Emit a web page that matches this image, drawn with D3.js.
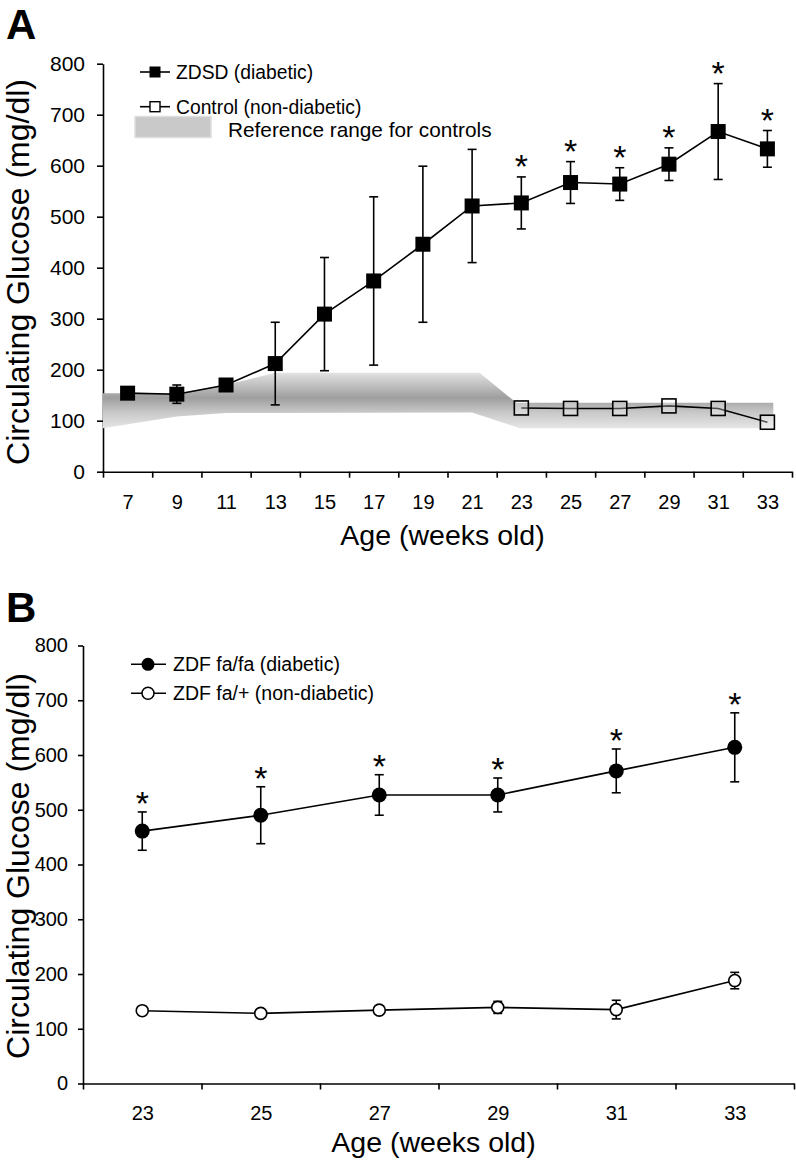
<!DOCTYPE html>
<html lang="en">
<head>
<meta charset="utf-8">
<title>Circulating Glucose</title>
<script src="https://cdn.jsdelivr.net/npm/d3@7"></script>
<style>
  body { margin: 0; background: #fff; }
  svg { font-family: "Liberation Sans", Arial, sans-serif; display: block; }
  .axis path, .axis line { stroke: #000; stroke-width: 1.6px; }
  .axis text { fill: #000; }
</style>
</head>
<body>
<div id="chart"></div>
<script>
// ---- Panel A data (ZDSD rats) ----
var weeksA = [7, 9, 11, 13, 15, 17, 19, 21, 23, 25, 27, 29, 31, 33];
var zdsdMean = [154, 152, 170, 212, 309, 374, 446, 521, 527, 567, 564, 603, 667, 633];
var zdsdErr = [5, 18, 5, 81, 111, 165, 153, 111, 51, 41, 32, 32, 94, 36];
var zdsdStar = [0, 0, 0, 0, 0, 0, 0, 0, 1, 1, 1, 1, 1, 1];
var ctrlWeeks = [23, 25, 27, 29, 31, 33];
var ctrlMean = [125, 124, 124, 129, 124, 97];
// reference range for controls (upper / lower edges, by week)
var bandUpperWeeks = [6, 9, 11, 13, 21.3, 22.8, 33.24];
var bandUpperVals = [154, 154, 170, 194, 194, 135, 135];
var bandLowerWeeks = [6, 9, 11, 21, 22.95, 33.24];
var bandLowerVals = [85, 108, 115, 116, 85, 85];

// ---- Panel B data (ZDF rats) ----
var weeksB = [23, 25, 27, 29, 31, 33];
var zdfMean = [461, 490, 527, 527, 571, 614];
var zdfErr = [35, 52, 37, 31, 40, 63];
var leanMean = [133, 128, 134, 139, 135, 188];
var leanErr = [6, 4, 5, 11, 17, 15];

var yTicks = [0, 100, 200, 300, 400, 500, 600, 700, 800];

var svg = d3.select("#chart").append("svg")
  .attr("width", 796)
  .attr("height", 1160);

// gradient for the reference band
var grad = svg.append("defs").append("linearGradient")
  .attr("id", "bandGrad")
  .attr("x1", 0).attr("y1", 0).attr("x2", 0).attr("y2", 1);
grad.append("stop").attr("offset", "0%").attr("stop-color", "#e2e2e2");
grad.append("stop").attr("offset", "45%").attr("stop-color", "#9e9e9e");
grad.append("stop").attr("offset", "72%").attr("stop-color", "#c9c9c9");
grad.append("stop").attr("offset", "100%").attr("stop-color", "#e6e6e6");

// draws axes + titles for a panel, returns scales
function drawAxes(opt) {
  var x = d3.scaleLinear().domain(opt.xDomain).range(opt.xRange);
  var y = d3.scaleLinear().domain([0, 800]).range(opt.yRange);
  var g = svg.append("g");

  // y axis
  g.append("g")
    .attr("class", "axis")
    .attr("transform", "translate(" + opt.xRange[0] + ",0)")
    .call(d3.axisLeft(y).tickValues(yTicks).tickSize(opt.yTick).tickSizeOuter(0).tickPadding(opt.yPad))
    .selectAll("text").style("font-size", opt.yFont + "px");

  // x axis: ticks at category boundaries
  var bounds = d3.range(opt.xDomain[0], opt.xDomain[1] + 1, 2);
  g.append("g")
    .attr("class", "axis")
    .attr("transform", "translate(0," + opt.yRange[0] + ")")
    .call(d3.axisBottom(x).tickValues(bounds).tickSize(6).tickSizeOuter(0).tickFormat(""));

  // x labels at category centres
  var lab = g.append("g")
    .attr("class", "axis")
    .attr("transform", "translate(0," + opt.yRange[0] + ")")
    .call(d3.axisBottom(x).tickValues(opt.labels).tickSize(0).tickPadding(opt.xPad));
  lab.select(".domain").remove();
  lab.selectAll("text").style("font-size", "20px");

  g.append("text")
    .attr("transform", "translate(29," + opt.yTitle + ") rotate(-90)")
    .attr("text-anchor", "middle")
    .style("font-size", "32px")
    .text("Circulating Glucose (mg/dl)");

  g.append("text")
    .attr("x", (opt.xRange[0] + opt.xRange[1]) / 2 - 5)
    .attr("y", opt.yRange[0] + opt.xTitleGap)
    .attr("text-anchor", "middle")
    .style("font-size", "28.5px")
    .text("Age (weeks old)");

  g.append("text")
    .attr("x", 6)
    .attr("y", opt.panelY)
    .style("font-size", "42px")
    .style("font-weight", "bold")
    .text(opt.panel);

  return { x: x, y: y, g: g };
}

function errorBars(g, x, y, weeks, mean, err) {
  var eb = g.append("g").attr("stroke", "#000").attr("stroke-width", 1.6);
  weeks.forEach(function(w, i) {
    var cx = x(w), top = y(mean[i] + err[i]), bot = y(mean[i] - err[i]);
    eb.append("line").attr("x1", cx).attr("x2", cx).attr("y1", top).attr("y2", bot);
    eb.append("line").attr("x1", cx - 4.5).attr("x2", cx + 4.5).attr("y1", top).attr("y2", top);
    eb.append("line").attr("x1", cx - 4.5).attr("x2", cx + 4.5).attr("y1", bot).attr("y2", bot);
  });
}

function stars(g, x, y, weeks, mean, err, flags, gap) {
  weeks.forEach(function(w, i) {
    if (!flags[i]) return;
    g.append("text")
      .attr("x", x(w))
      .attr("y", y(mean[i] + err[i]) - gap + 19)
      .attr("text-anchor", "middle")
      .style("font-size", "34px")
      .text("*");
  });
}

function seriesLine(g, x, y, weeks, vals) {
  g.append("path")
    .datum(weeks.map(function(w, i) { return [w, vals[i]]; }))
    .attr("fill", "none")
    .attr("stroke", "#000")
    .attr("stroke-width", 1.6)
    .attr("d", d3.line().x(function(d) { return x(d[0]); }).y(function(d) { return y(d[1]); }));
}

// ================= Panel A =================
var A = drawAxes({
  xDomain: [6, 34], xRange: [103, 792], yRange: [471.7, 63.7],
  yTick: 6, yPad: 12, yFont: 21, xPad: 23, labels: weeksA,
  yTitle: 272, xTitleGap: 73, panel: "A", panelY: 39
});

// reference band polygon
var upper = d3.scaleLinear().domain(bandUpperWeeks).range(bandUpperVals);
var lower = d3.scaleLinear().domain(bandLowerWeeks).range(bandLowerVals);
var bandPts = bandUpperWeeks.map(function(w) { return [A.x(w), A.y(upper(w))]; })
  .concat(bandLowerWeeks.slice().reverse().map(function(w) { return [A.x(w), A.y(lower(w))]; }));
A.g.append("path")
  .attr("d", "M" + bandPts.join("L") + "Z")
  .attr("fill", "url(#bandGrad)");

errorBars(A.g, A.x, A.y, weeksA, zdsdMean, zdsdErr);
seriesLine(A.g, A.x, A.y, weeksA, zdsdMean);
seriesLine(A.g, A.x, A.y, ctrlWeeks, ctrlMean);

A.g.selectAll(".zdsd").data(weeksA).enter().append("rect")
  .attr("x", function(d) { return A.x(d) - 7.5; })
  .attr("y", function(d, i) { return A.y(zdsdMean[i]) - 7.5; })
  .attr("width", 15).attr("height", 15)
  .attr("fill", "#000");

A.g.selectAll(".ctrl").data(ctrlWeeks).enter().append("rect")
  .attr("x", function(d) { return A.x(d) - 7; })
  .attr("y", function(d, i) { return A.y(ctrlMean[i]) - 7; })
  .attr("width", 14).attr("height", 14)
  .attr("fill", "#fff").attr("fill-opacity", 0.3)
  .attr("stroke", "#000").attr("stroke-width", 1.6);

stars(A.g, A.x, A.y, weeksA, zdsdMean, zdsdErr, zdsdStar, 18);

// legend A
var legA = svg.append("g").style("font-size", "19.3px");
legA.append("line").attr("x1", 140).attr("x2", 170).attr("y1", 72).attr("y2", 72).attr("stroke", "#000").attr("stroke-width", 1.6);
legA.append("rect").attr("x", 149.5).attr("y", 66.5).attr("width", 11).attr("height", 11).attr("fill", "#000");
legA.append("text").attr("x", 176).attr("y", 79).text("ZDSD (diabetic)");
legA.append("line").attr("x1", 140).attr("x2", 170).attr("y1", 106.7).attr("y2", 106.7).attr("stroke", "#000").attr("stroke-width", 1.6);
legA.append("rect").attr("x", 150).attr("y", 101.7).attr("width", 10).attr("height", 10).attr("fill", "#fff").attr("stroke", "#000").attr("stroke-width", 1.4);
legA.append("text").attr("x", 176).attr("y", 114).text("Control (non-diabetic)");
legA.append("rect").attr("x", 135).attr("y", 116.5).attr("width", 76).attr("height", 21)
  .attr("fill", "#c9c9c9").attr("stroke", "#dedede").attr("stroke-width", 1.5);
legA.append("text").attr("x", 228).attr("y", 137).style("font-size", "20.8px").text("Reference range for controls");

// ================= Panel B =================
var B = drawAxes({
  xDomain: [22, 34], xRange: [83, 794], yRange: [1083.5, 645.5],
  yTick: 5, yPad: 10, yFont: 20, xPad: 22, labels: weeksB,
  yTitle: 866, xTitleGap: 68, panel: "B", panelY: 622
});

errorBars(B.g, B.x, B.y, weeksB, zdfMean, zdfErr);
errorBars(B.g, B.x, B.y, weeksB, leanMean, leanErr);
seriesLine(B.g, B.x, B.y, weeksB, zdfMean);
seriesLine(B.g, B.x, B.y, weeksB, leanMean);

B.g.selectAll(".zdf").data(weeksB).enter().append("circle")
  .attr("cx", function(d) { return B.x(d); })
  .attr("cy", function(d, i) { return B.y(zdfMean[i]); })
  .attr("r", 7.5).attr("fill", "#000");

B.g.selectAll(".lean").data(weeksB).enter().append("circle")
  .attr("cx", function(d) { return B.x(d); })
  .attr("cy", function(d, i) { return B.y(leanMean[i]); })
  .attr("r", 6).attr("fill", "#fff")
  .attr("stroke", "#000").attr("stroke-width", 1.6);

stars(B.g, B.x, B.y, weeksB, zdfMean, zdfErr, [1, 1, 1, 1, 1, 1], 16);

// legend B
var legB = svg.append("g").style("font-size", "19.5px");
legB.append("line").attr("x1", 131).attr("x2", 166).attr("y1", 664.3).attr("y2", 664.3).attr("stroke", "#000").attr("stroke-width", 1.6);
legB.append("circle").attr("cx", 148).attr("cy", 664.3).attr("r", 6.5).attr("fill", "#000");
legB.append("text").attr("x", 173).attr("y", 671).text("ZDF fa/fa (diabetic)");
legB.append("line").attr("x1", 131).attr("x2", 166).attr("y1", 693.3).attr("y2", 693.3).attr("stroke", "#000").attr("stroke-width", 1.6);
legB.append("circle").attr("cx", 148).attr("cy", 693.3).attr("r", 6).attr("fill", "#fff").attr("stroke", "#000").attr("stroke-width", 1.5);
legB.append("text").attr("x", 173).attr("y", 700).text("ZDF fa/+ (non-diabetic)");
</script>
</body>
</html>
